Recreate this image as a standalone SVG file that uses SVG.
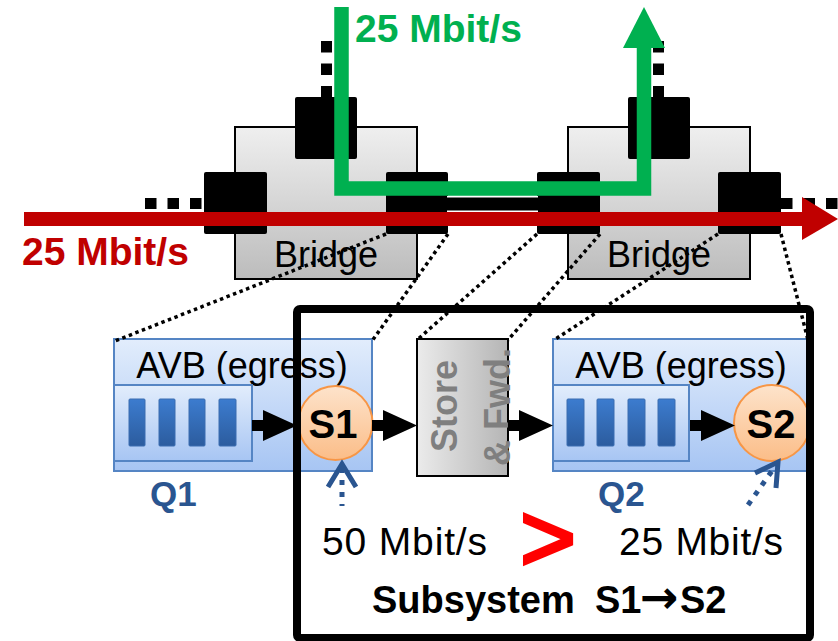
<svg xmlns="http://www.w3.org/2000/svg" xmlns:xlink="http://www.w3.org/1999/xlink" width="838" height="641" viewBox="0 0 838 641">
<defs>
<linearGradient id="gBridge" x1="0" y1="0" x2="0" y2="1"><stop offset="0" stop-color="#efefef"/><stop offset="1" stop-color="#bcbcbc"/></linearGradient>
<linearGradient id="gStore" x1="0" y1="0" x2="1" y2="0"><stop offset="0" stop-color="#ebebeb"/><stop offset="1" stop-color="#b5b5b5"/></linearGradient>
<linearGradient id="gAvb" x1="0" y1="0" x2="0" y2="1"><stop offset="0" stop-color="#e2edfc"/><stop offset="1" stop-color="#a7c5f3"/></linearGradient>
<linearGradient id="gBar" x1="0" y1="0" x2="0" y2="1"><stop offset="0" stop-color="#3c7ccf"/><stop offset="1" stop-color="#2c5c9e"/></linearGradient>
<linearGradient id="gS" x1="0" y1="0" x2="0" y2="1"><stop offset="0" stop-color="#fde3cb"/><stop offset="1" stop-color="#fbbd88"/></linearGradient>
<path id="arr" d="M-45,-5.5 H-34 V-15.5 L0,0 L-34,15.5 V5.5 H-45 Z"/>
</defs>
<style>
.port{fill:#000}
.bridge{fill:url(#gBridge);stroke:#000;stroke-width:2}
.txt{font-family:"Liberation Sans",Arial,sans-serif}
.dots{fill:none;stroke:#000;stroke-width:11;stroke-dasharray:11.5 11}
.proj{fill:none;stroke:#000;stroke-width:3.5;stroke-dasharray:3.5 3.5}
.avb{fill:url(#gAvb);stroke:#5585c4;stroke-width:2}
.bar{fill:url(#gBar);stroke:#3a6db0;stroke-width:1}
.sched{fill:url(#gS);stroke:#f79646;stroke-width:2}
.blue{fill:none;stroke:#2a5590;stroke-width:5}
</style>

<g id="bridge1">
<rect class="bridge" x="235" y="127" width="182" height="152"/>
<rect class="port" x="295" y="97" width="62" height="62" rx="2"/>
<rect class="port" x="204" y="172" width="63" height="62" rx="2"/>
<rect class="port" x="386" y="172" width="62" height="62" rx="2"/>
<text class="txt" x="326" y="267" font-size="36" text-anchor="middle">Bridge</text>
</g>
<g id="bridge2">
<rect class="bridge" x="568" y="127" width="182" height="152"/>
<rect class="port" x="628" y="97" width="62" height="62" rx="2"/>
<rect class="port" x="537" y="172" width="63" height="62" rx="2"/>
<rect class="port" x="718" y="172" width="63" height="62" rx="2"/>
<text class="txt" x="659" y="267" font-size="36" text-anchor="middle">Bridge</text>
</g>

<g id="avb1">
<rect class="avb" x="114" y="339" width="258" height="132"/>
<text class="txt" x="242" y="378" font-size="36" text-anchor="middle">AVB (egress)</text>
<rect class="avb" x="114" y="385" width="138" height="76"/>
<rect class="bar" x="129" y="399" width="16" height="47" rx="1"/>
<rect class="bar" x="159" y="399" width="16" height="47" rx="1"/>
<rect class="bar" x="189" y="399" width="16" height="47" rx="1"/>
<rect class="bar" x="219" y="399" width="17" height="47" rx="1"/>
</g>
<g id="s1">
<circle class="sched" cx="335.5" cy="423" r="37"/>
<text class="txt" x="333" y="438" font-size="40" font-weight="bold" text-anchor="middle">S1</text>
</g>
<g id="store">
<rect x="417" y="339" width="91" height="137" fill="url(#gStore)" stroke="#000" stroke-width="2"/>
<text class="txt" transform="translate(457,406) rotate(-90)" font-size="36" font-weight="bold" fill="#7f7f7f" text-anchor="middle">Store</text>
<text class="txt" transform="translate(510,407) rotate(-90)" font-size="36" font-weight="bold" fill="#7f7f7f" text-anchor="middle">&amp; Fwd.</text>
</g>
<g id="avb2">
<rect class="avb" x="553" y="339" width="254" height="132"/>
<text class="txt" x="681" y="378" font-size="36" text-anchor="middle">AVB (egress)</text>
<rect class="avb" x="553" y="385" width="136" height="76"/>
<rect class="bar" x="567" y="399" width="17" height="47" rx="1"/>
<rect class="bar" x="597" y="399" width="17" height="47" rx="1"/>
<rect class="bar" x="628" y="399" width="17" height="47" rx="1"/>
<rect class="bar" x="658" y="399" width="17" height="47" rx="1"/>
</g>
<g id="s2">
<circle class="sched" cx="772" cy="423" r="38"/>
<text class="txt" x="771" y="438" font-size="40" font-weight="bold" text-anchor="middle">S2</text>
</g>
<text class="txt" x="150" y="506" font-size="35" font-weight="bold" fill="#2a5590">Q1</text>
<text class="txt" x="598" y="506" font-size="35" font-weight="bold" fill="#2a5590">Q2</text>

<g id="connectors">
<line x1="145" y1="203.5" x2="204" y2="203.5" class="dots"/>
<line x1="326.5" y1="41" x2="326.5" y2="97" class="dots"/>
<line x1="658.5" y1="41" x2="658.5" y2="97" class="dots"/>
<line x1="781" y1="203.5" x2="838" y2="203.5" class="dots"/>
<rect x="447" y="196" width="91" height="16" fill="#fff"/>
<rect x="447" y="197.5" width="91" height="13" fill="#000"/>
<polyline points="341.5,7 341.5,188.5 644,188.5 644,46" fill="none" stroke="#00b050" stroke-width="14.5"/>
<polygon points="623,48 665,48 644,7" fill="#00b050"/>
<line x1="24" y1="219" x2="803" y2="219" stroke="#c00000" stroke-width="14"/>
<polygon points="802,197 802,240 838,219" fill="#c00000"/>
<line class="proj" x1="386" y1="234" x2="115" y2="341"/>
<line class="proj" x1="448" y1="234" x2="372" y2="341"/>
<line class="proj" x1="537" y1="234" x2="417" y2="340"/>
<line class="proj" x1="600" y1="234" x2="508" y2="340"/>
<line class="proj" x1="718" y1="234" x2="554" y2="340"/>
<line class="proj" x1="781" y1="234" x2="808" y2="340"/>
<use xlink:href="#arr" x="297" y="425.5"/>
<use xlink:href="#arr" x="417" y="425.5"/>
<use xlink:href="#arr" x="553" y="425.5"/>
<use xlink:href="#arr" x="735" y="425.5"/>
<line class="blue" x1="342" y1="468" x2="342" y2="506" stroke-dasharray="5 7"/>
<polyline class="blue" points="328,487 342,464 356,487"/>
<line class="blue" x1="748" y1="505" x2="774" y2="468" stroke-dasharray="5 7"/>
<polyline class="blue" points="755,473 778,462 776,488"/>
</g>

<text class="txt" x="22" y="265" font-size="39" font-weight="bold" fill="#c00000">25 Mbit/s</text>
<text class="txt" x="355" y="42" font-size="39" font-weight="bold" fill="#00b050">25 Mbit/s</text>

<g id="subsystem">
<rect x="297" y="309" width="513" height="329" rx="3" fill="none" stroke="#000" stroke-width="8"/>
<text class="txt" x="322" y="555" font-size="39" textLength="165" lengthAdjust="spacing">50 Mbit/s</text>
<text class="txt" x="548" y="571" font-size="96" fill="#ff0000" stroke="#ff0000" stroke-width="3.5" stroke-linejoin="miter" text-anchor="middle">&gt;</text>
<text class="txt" x="619" y="555" font-size="39" textLength="164" lengthAdjust="spacing">25 Mbit/s</text>
<text class="txt" y="613" font-size="38" font-weight="bold"><tspan x="372">Subsystem</tspan><tspan x="595">S1</tspan><tspan x="640" font-family="'DejaVu Sans',sans-serif" font-size="46">→</tspan><tspan x="680">S2</tspan></text>
</g>
</svg>
